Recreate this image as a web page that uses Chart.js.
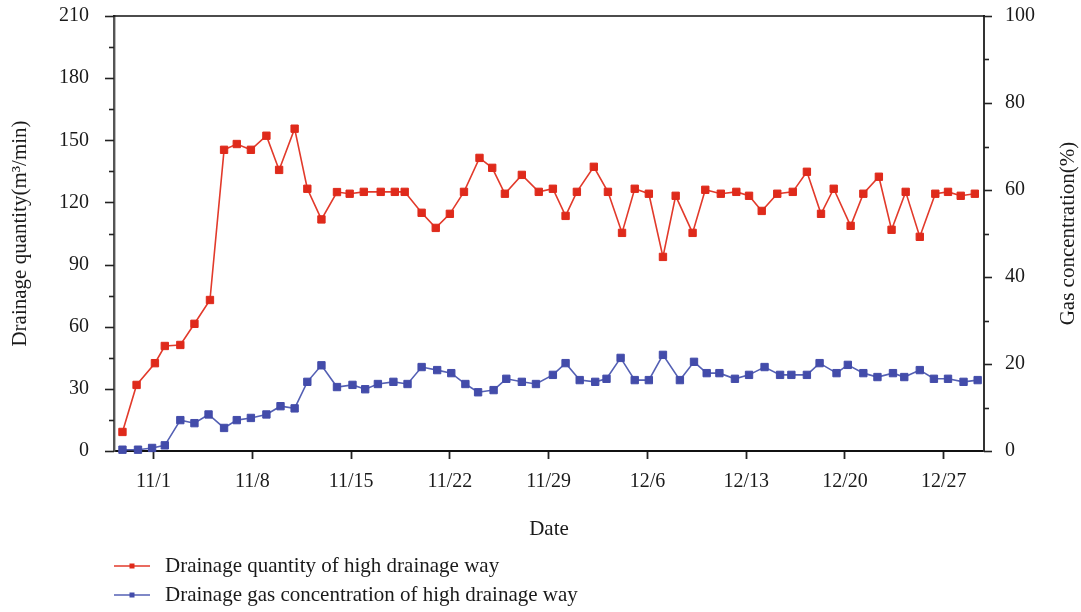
<!DOCTYPE html>
<html>
<head>
<meta charset="utf-8">
<script src="https://cdn.jsdelivr.net/npm/chart.js@4.4.1/dist/chart.umd.min.js"></script>
<style>
  html, body { margin: 0; padding: 0; background: #ffffff; }
  #wrap { width: 1081px; height: 612px; }
</style>
</head>
<body>
<div id="wrap"><canvas id="c" width="1081" height="612"></canvas></div>
<script>
// Date ticks, counted in days from 11/1
const tickDays = [0, 7, 14, 21, 28, 35, 42, 49, 56];
const tickLabels = ['11/1', '11/8', '11/15', '11/22', '11/29', '12/6', '12/13', '12/20', '12/27'];

// Drainage quantity (m3/min): sampling time in days from 11/1, and value
const qtyDay = [-2.2, -1.2, 0.1, 0.8, 1.9, 2.9, 4.0, 5.0, 5.9, 6.9, 8.0, 8.9, 10.0, 10.9, 11.9, 13.0,
  13.9, 14.9, 16.1, 17.1, 17.8, 19.0, 20.0, 21.0, 22.0, 23.1, 24.0, 24.9, 26.1, 27.3, 28.3, 29.2,
  30.0, 31.2, 32.2, 33.2, 34.1, 35.1, 36.1, 37.0, 38.2, 39.1, 40.2, 41.3, 42.2, 43.1, 44.2, 45.3,
  46.3, 47.3, 48.2, 49.4, 50.3, 51.4, 52.3, 53.3, 54.3, 55.4, 56.3, 57.2, 58.2];
const qtyValue = [9.2, 31.9, 42.4, 50.7, 51.2, 61.4, 72.9, 145.4, 148.2, 145.4, 152.2, 135.7, 155.6, 126.6, 111.8, 125.0,
  124.2, 125.1, 125.1, 125.1, 125.1, 115.0, 107.7, 114.5, 125.1, 141.5, 136.7, 124.2, 133.3, 125.1, 126.6, 113.5,
  125.1, 137.2, 125.1, 105.3, 126.6, 124.2, 93.7, 123.2, 105.3, 126.1, 124.2, 125.1, 123.2, 115.9, 124.2, 125.1,
  134.8, 114.5, 126.6, 108.7, 124.2, 132.4, 106.8, 125.1, 103.4, 124.2, 125.1, 123.2, 124.2];

// Gas concentration (%): sampling time in days from 11/1, and value
const concDay = [-2.2, -1.1, -0.1, 0.8, 1.9, 2.9, 3.9, 5.0, 5.9, 6.9, 8.0, 9.0, 10.0, 10.9, 11.9, 13.0,
  14.1, 15.0, 15.9, 17.0, 18.0, 19.0, 20.1, 21.1, 22.1, 23.0, 24.1, 25.0, 26.1, 27.1, 28.3, 29.2,
  30.2, 31.3, 32.1, 33.1, 34.1, 35.1, 36.1, 37.3, 38.3, 39.2, 40.1, 41.2, 42.2, 43.3, 44.4, 45.2,
  46.3, 47.2, 48.4, 49.2, 50.3, 51.3, 52.4, 53.2, 54.3, 55.3, 56.3, 57.4, 58.4];
const concValue = [0.3, 0.3, 0.7, 1.3, 7.1, 6.4, 8.4, 5.3, 7.1, 7.6, 8.4, 10.3, 9.8, 15.9, 19.7, 14.7,
  15.2, 14.2, 15.4, 15.9, 15.4, 19.3, 18.6, 17.9, 15.4, 13.5, 14.0, 16.6, 15.9, 15.4, 17.5, 20.2,
  16.3, 15.9, 16.6, 21.4, 16.3, 16.3, 22.1, 16.3, 20.5, 17.9, 17.9, 16.6, 17.5, 19.3, 17.5, 17.5,
  17.5, 20.2, 17.9, 19.8, 17.9, 17.0, 17.9, 17.0, 18.6, 16.6, 16.6, 15.9, 16.3];

const seriesNames = ['Drainage quantity of high drainage way', 'Drainage gas concentration of high drainage way'];
const axisTitles = { x: 'Date', left: 'Drainage quantity(m\u00b3/min)', right: 'Gas concentration(%)' };

const RED = '#df2a1b', RED_LINE = '#e23a2b';
const BLUE = '#434caa', BLUE_LINE = '#5460b4';
const FONT = "'Liberation Serif', 'Times New Roman', serif";
const TEXT = '#1a1a1a';
const TICK_SIZE = 20;
const TITLE_SIZE = 21;

// Axis decorations: frame top line, major/minor tick marks, right title, legend
const decorations = {
  id: 'decorations',
  afterDraw(chart) {
    const { ctx, chartArea: a, scales } = chart;
    ctx.save();
    // top frame line
    ctx.strokeStyle = '#111';
    ctx.lineWidth = 1.6;
    ctx.beginPath();
    ctx.moveTo(a.left - 1, a.top);
    ctx.lineTo(a.right + 1, a.top);
    ctx.stroke();

    // left axis tick marks
    ctx.strokeStyle = '#222';
    ctx.lineWidth = 1.6;
    for (let v = 0; v <= 210; v += 15) {
      const py = Math.round(scales.yQty.getPixelForValue(v)) + 0.5;
      const len = v % 30 === 0 ? 9 : 5;
      ctx.beginPath();
      ctx.moveTo(a.left - len, py);
      ctx.lineTo(a.left, py);
      ctx.stroke();
    }
    // right axis tick marks
    for (let v = 0; v <= 100; v += 10) {
      const py = Math.round(scales.yConc.getPixelForValue(v)) + 0.5;
      const len = v % 20 === 0 ? 8 : 5;
      ctx.beginPath();
      ctx.moveTo(a.right, py);
      ctx.lineTo(a.right + len, py);
      ctx.stroke();
    }

    // right axis title, reading bottom to top
    ctx.fillStyle = TEXT;
    ctx.font = TITLE_SIZE + 'px ' + FONT;
    ctx.textAlign = 'center';
    ctx.textBaseline = 'middle';
    ctx.save();
    ctx.translate(1068, (a.top + a.bottom) / 2);
    ctx.rotate(-Math.PI / 2);
    ctx.fillText(axisTitles.right, 0, 0);
    ctx.restore();

    // legend
    const items = [
      { name: seriesNames[0], line: RED_LINE, mark: RED, y: 566 },
      { name: seriesNames[1], line: BLUE_LINE, mark: BLUE, y: 595 }
    ];
    ctx.textAlign = 'left';
    items.forEach(it => {
      ctx.strokeStyle = it.line;
      ctx.lineWidth = 1.5;
      ctx.beginPath();
      ctx.moveTo(114, it.y);
      ctx.lineTo(150, it.y);
      ctx.stroke();
      ctx.fillStyle = it.mark;
      ctx.fillRect(129.5, it.y - 2.5, 5, 5);
      ctx.fillStyle = TEXT;
      ctx.fillText(it.name, 165, it.y);
    });
    ctx.restore();
  }
};

const toPoints = (days, vals) => days.map((d, i) => ({ x: d, y: vals[i] }));

// fixed axis band sizes; tick labels are allowed to overhang the plot edges
const fixWidth = w => s => { s.width = w; s.paddingTop = 0; s.paddingBottom = 0; };

new Chart(document.getElementById('c'), {
  type: 'line',
  data: {
    datasets: [
      {
        label: seriesNames[0],
        data: toPoints(qtyDay, qtyValue),
        yAxisID: 'yQty',
        borderColor: RED_LINE,
        borderWidth: 1.6,
        pointStyle: 'rect',
        pointRadius: 5.2,
        pointBackgroundColor: RED,
        pointBorderColor: RED,
        pointBorderWidth: 1,
        tension: 0,
        clip: false
      },
      {
        label: seriesNames[1],
        data: toPoints(concDay, concValue),
        yAxisID: 'yConc',
        borderColor: BLUE_LINE,
        borderWidth: 1.6,
        pointStyle: 'rect',
        pointRadius: 5.2,
        pointBackgroundColor: BLUE,
        pointBorderColor: BLUE,
        pointBorderWidth: 1,
        tension: 0,
        clip: false
      }
    ]
  },
  options: {
    responsive: false,
    devicePixelRatio: 1,
    animation: false,
    layout: { padding: { left: 0, right: 0, top: 16, bottom: 70.4 } },
    plugins: { legend: { display: false }, tooltip: { enabled: false } },
    scales: {
      x: {
        type: 'linear',
        position: 'bottom',
        min: -2.8,
        max: 58.85,
        afterBuildTicks: s => { s.ticks = tickDays.map(v => ({ value: v })); },
        afterFit: s => { s.height = 90.6; s.paddingLeft = 0; s.paddingRight = 0; },
        ticks: {
          autoSkip: false,
          maxRotation: 0,
          padding: 11,
          color: TEXT,
          font: { family: FONT, size: TICK_SIZE },
          callback: v => tickLabels[tickDays.indexOf(v)]
        },
        grid: { drawOnChartArea: false, drawTicks: true, tickLength: 8, tickColor: '#222', tickWidth: 1.8 },
        border: { display: true, color: '#111', width: 2 },
        title: { display: true, text: axisTitles.x, color: TEXT, font: { family: FONT, size: TITLE_SIZE }, padding: 0 }
      },
      yQty: {
        type: 'linear',
        position: 'left',
        min: 0,
        max: 210,
        afterFit: fixWidth(114),
        ticks: {
          stepSize: 15,
          padding: 16,
          color: TEXT,
          font: { family: FONT, size: TICK_SIZE },
          callback: v => (v % 30 === 0 ? String(v) : '')
        },
        grid: { drawOnChartArea: false, drawTicks: true, tickLength: 9, tickColor: 'rgba(0,0,0,0)' },
        border: { display: true, color: '#555', width: 2.4 },
        title: { display: true, text: axisTitles.left, color: TEXT, font: { family: FONT, size: TITLE_SIZE }, padding: { top: 7.4 } }
      },
      yConc: {
        type: 'linear',
        position: 'right',
        min: 0,
        max: 100,
        afterFit: fixWidth(97),
        ticks: {
          stepSize: 10,
          padding: 13,
          color: TEXT,
          font: { family: FONT, size: TICK_SIZE },
          callback: v => (v % 20 === 0 ? String(v) : '')
        },
        grid: { drawOnChartArea: false, drawTicks: true, tickLength: 8, tickColor: 'rgba(0,0,0,0)' },
        border: { display: true, color: '#333', width: 2 }
      }
    }
  },
  plugins: [decorations]
});
</script>
</body>
</html>
